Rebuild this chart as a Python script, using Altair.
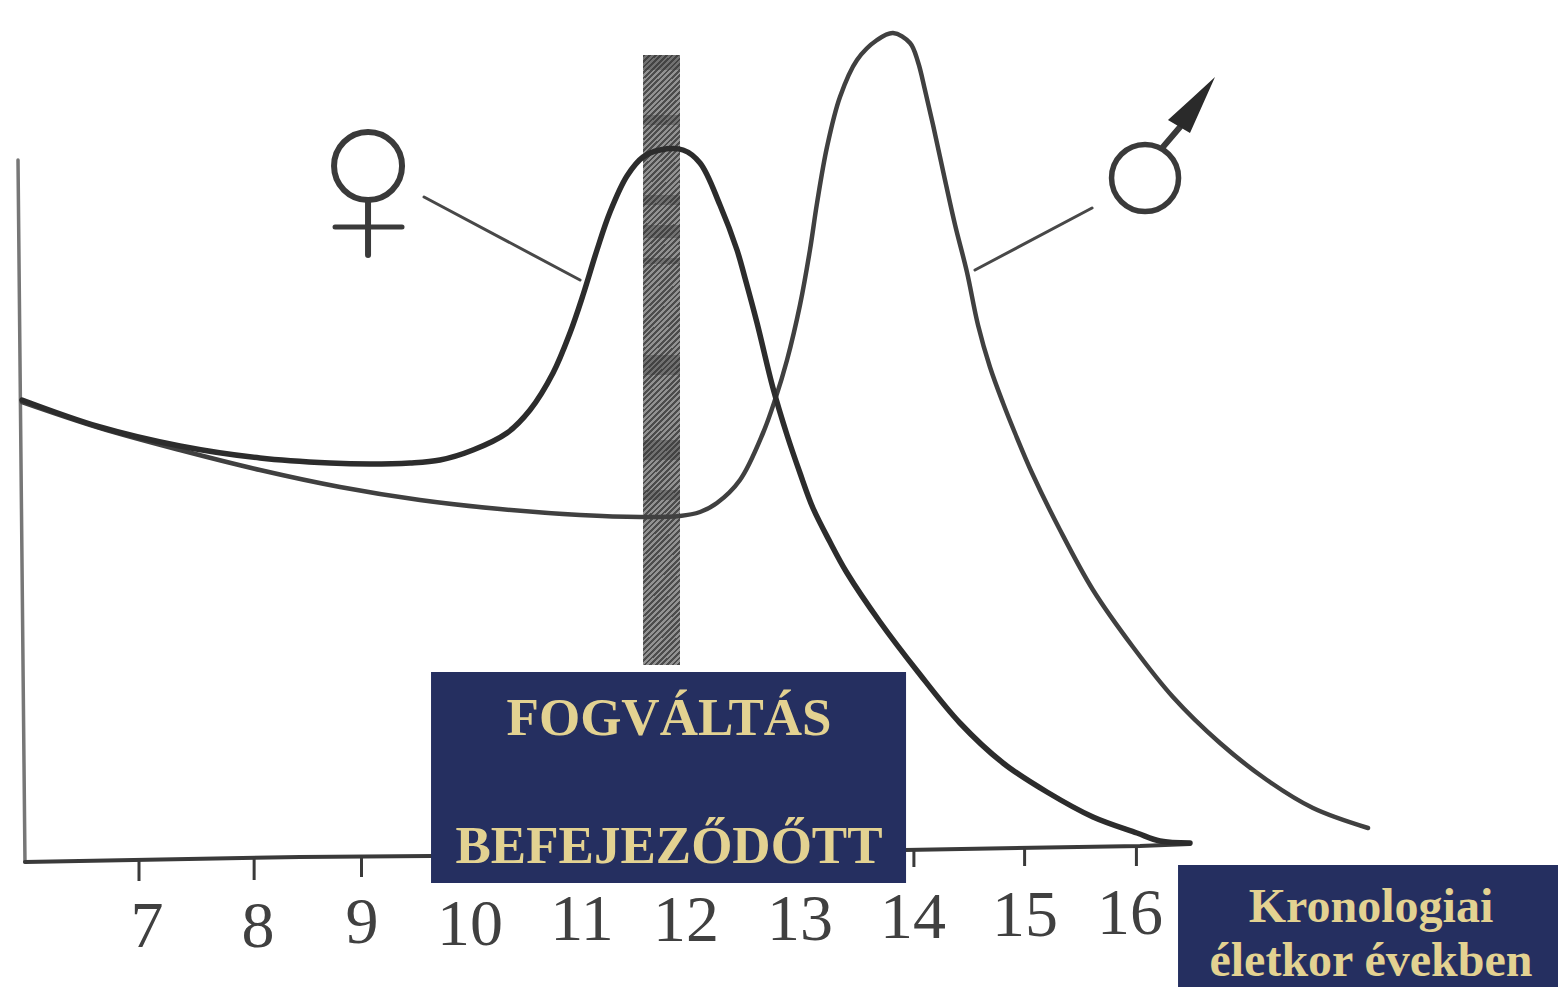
import altair as alt
import pandas as pd

# Growth-rate curves (age in years, arbitrary growth units)
girl_age = [5.943, 6.648, 7.370, 8.093, 8.725, 9.087, 9.448, 9.719, 10.017, 10.324, 10.532, 10.740, 10.893,
            11.011, 11.137, 11.255, 11.408, 11.553, 11.706, 11.914, 12.068, 12.248, 12.402, 12.474, 12.583,
            12.727, 12.854, 12.971, 13.088, 13.242, 13.396, 13.694, 14.037, 14.416, 14.805, 15.202, 15.618,
            16.015, 16.223, 16.494]
girl_val = [4.60, 4.33, 4.14, 4.02, 3.97, 3.96, 3.97, 4.00, 4.10, 4.27, 4.50, 4.87, 5.27,
            5.65, 6.10, 6.48, 6.84, 7.03, 7.10, 7.10, 6.97, 6.55, 6.10, 5.82, 5.37,
            4.72, 4.25, 3.87, 3.52, 3.18, 2.87, 2.38, 1.88, 1.37, 0.97, 0.68, 0.43,
            0.27, 0.19, 0.17]
boy_age = [5.943, 6.648, 7.370, 8.093, 8.816, 9.538, 10.261, 10.984, 11.526, 11.887, 12.068, 12.221, 12.429,
           12.637, 12.745, 12.854, 12.971, 13.061, 13.125, 13.215, 13.332, 13.486, 13.667, 13.811, 13.965,
           14.037, 14.100, 14.173, 14.281, 14.372, 14.479, 14.579, 14.687, 14.805, 14.913, 15.067, 15.320,
           15.618, 15.979, 16.340, 16.765, 17.189, 17.605, 18.102]
boy_val = [4.58, 4.32, 4.10, 3.90, 3.73, 3.60, 3.51, 3.45, 3.43, 3.44, 3.48, 3.57, 3.80,
           4.27, 4.60, 5.00, 5.55, 6.10, 6.57, 7.13, 7.63, 8.00, 8.20, 8.27, 8.17,
           7.98, 7.70, 7.35, 6.80, 6.35, 5.88, 5.35, 4.93, 4.57, 4.27, 3.87, 3.30,
           2.70, 2.13, 1.63, 1.17, 0.80, 0.52, 0.32]

# Hand-drawn axes
yaxis_age = [5.907, 5.970]
yaxis_val = [7.00, -0.02]
xaxis_age = [5.970, 8.454, 9.629, 13.920, 16.042, 16.494]
xaxis_val = [-0.02, 0.03, 0.04, 0.10, 0.14, 0.16]
tick_age = [7.00, 8.04, 9.01, 9.99, 10.98, 11.96, 12.97, 14.00, 15.00, 16.01]
tick_top = [0.00, 0.02, 0.03, 0.04, 0.06, 0.07, 0.08, 0.10, 0.12, 0.14]
tick_bot = [-0.21, -0.20, -0.17, -0.17, -0.17, -0.17, -0.17, -0.07, -0.06, -0.06]
label_text = ["7", "8", "9", "10", "11", "12", "13", "14", "15", "16"]
label_age = [7.072, 8.075, 9.014, 9.990, 11.002, 11.941, 12.971, 13.992, 15.004, 15.952]
label_val = [-0.87, -0.87, -0.83, -0.85, -0.80, -0.81, -0.80, -0.78, -0.76, -0.74]

# Annotation geometry, in the same age / growth units
band_age = [11.553, 11.887]
band_val = [8.05, 1.95]
band_dark_top = [8.05, 7.45, 6.65, 6.35, 6.02, 5.05, 4.20, 3.70]
band_dark_bot = [7.90, 7.35, 6.55, 6.22, 5.96, 4.85, 4.00, 3.60]
leader_f = ([9.575, 10.984], [6.63, 5.80])
leader_m = ([14.552, 15.609], [5.90, 6.52])
venus_center = ([9.069], [6.94])
venus_stem = ([9.069, 9.069], [6.60, 6.05])
venus_cross = ([8.771, 9.376], [6.33, 6.33])
mars_center = ([16.088], [6.82])
mars_stem = ([16.250, 16.404], [7.13, 7.33])
mars_head_age = [16.295, 16.494, 16.720]
mars_head_top = [7.40, 7.60, 7.83]
mars_head_bot = [7.40, 7.27, 7.83]

box1_age = [9.638, 13.929]
box1_val = [1.88, -0.23]
box2_age = [16.386, 19.8184]
box2_val = [-0.05, -1.27]
box1_text = ["FOGVÁLTÁS", "BEFEJEZŐDŐTT"]
box1_text_age = [11.788, 11.788]
box1_text_val = [1.25, -0.03]
box2_text = ["Kronologiai", "életkor években"]
box2_text_age = [18.129, 18.129]
box2_text_val = [-0.62, -1.16]

X_SCALE = alt.Scale(domain=[5.8166, 19.8184], nice=False, zero=False)
Y_SCALE = alt.Scale(domain=[-1.27, 8.52], nice=False, zero=False)
NAVY = "#252f60"
GOLD = "#e3d291"
INK = "#3a3a3a"


def xq(f="x"):
    return alt.X(f"{f}:Q", scale=X_SCALE, axis=None)


def yq(f="y"):
    return alt.Y(f"{f}:Q", scale=Y_SCALE, axis=None)


def path(xs, ys, color=INK, width=3.0, interp=None):
    kw = {"interpolate": interp} if interp else {}
    df = pd.DataFrame({"x": xs, "y": ys, "o": range(len(xs))})
    return alt.Chart(df).mark_line(color=color, strokeWidth=width, strokeCap="round", **kw).encode(
        x=xq(), y=yq(), order="o:Q")


def box(xs, ys, style):
    df = pd.DataFrame({"x": [xs[0]], "x2": [xs[1]], "y": [ys[0]], "y2": [ys[1]]})
    return alt.Chart(df).mark_rect(**style).encode(x=xq(), x2="x2:Q", y=yq(), y2="y2:Q")


def ring(c, size, width):
    df = pd.DataFrame({"x": c[0], "y": c[1]})
    return alt.Chart(df).mark_point(shape="circle", size=size, filled=False, color=INK,
                                    strokeWidth=width, opacity=1).encode(x=xq(), y=yq())


def labels(t, xs, ys, size, color, bold, font):
    df = pd.DataFrame({"t": t, "x": xs, "y": ys})
    kw = {"fontWeight": "bold"} if bold else {}
    return alt.Chart(df).mark_text(font=font, fontSize=size, color=color, align="center",
                                   baseline="alphabetic", **kw).encode(x=xq(), y=yq(), text="t:N")


# Diagonal hatching of the shaded band
n = 234
stops = []
for i in range(n):
    c = "#4c4c4c" if i % 2 == 0 else "#929292"
    stops.append(alt.GradientStop(offset=i / n, color=c))
    stops.append(alt.GradientStop(offset=(i + 1) / n, color=c))
hatch = alt.Gradient(gradient="linear", stops=stops, x1=0, y1=0, x2=0.0636, y2=1.06)

tick_df = pd.DataFrame({"x": tick_age, "y": tick_top, "y2": tick_bot})
ticks = alt.Chart(tick_df).mark_rule(color=INK, strokeWidth=3).encode(x=xq(), y=yq(), y2="y2:Q")

head_df = pd.DataFrame({"x": mars_head_age, "y": mars_head_top, "y2": mars_head_bot})
head = alt.Chart(head_df).mark_area(color="#2a2a2a", opacity=1).encode(x=xq(), y=yq(), y2="y2:Q")

dark_df = pd.DataFrame({"y": band_dark_top, "y2": band_dark_bot, "x": band_age[0], "x2": band_age[1]})
dark = alt.Chart(dark_df).mark_rect(color="#333333", opacity=0.35).encode(x=xq(), x2="x2:Q", y=yq(), y2="y2:Q")

chart = alt.layer(
    box(band_age, band_val, {"color": hatch}),
    dark,
    path(yaxis_age, yaxis_val, "#777777", 3.5),
    path(xaxis_age, xaxis_val, "#3a3a3a", 4),
    ticks,
    labels(label_text, label_age, label_val, 66, "#404040", False, "Liberation Serif"),
    path(boy_age, boy_val, "#404040", 4.5, "catmull-rom"),
    path(girl_age, girl_val, "#2c2c2c", 5.5, "catmull-rom"),
    path(*leader_f, "#484848", 3),
    path(*leader_m, "#484848", 3),
    ring(venus_center, 4624, 6),
    path(*venus_stem, INK, 6),
    path(*venus_cross, INK, 5),
    ring(mars_center, 4489, 5.5),
    path(*mars_stem, INK, 6),
    head,
    box(box1_age, box1_val, {"color": NAVY}),
    box(box2_age, box2_val, {"color": NAVY}),
    labels(box1_text, box1_text_age, box1_text_val, 53, GOLD, True, "Liberation Serif"),
    labels(box2_text, box2_text_age, box2_text_val, 48, GOLD, True, "Liberation Serif"),
).properties(
    width=1550, height=979, padding=0, background="white",
    autosize=alt.AutoSizeParams(type="none"),
).configure_view(stroke=None)

chart.save("out.html", embed_options={"renderer": "svg", "actions": False})
